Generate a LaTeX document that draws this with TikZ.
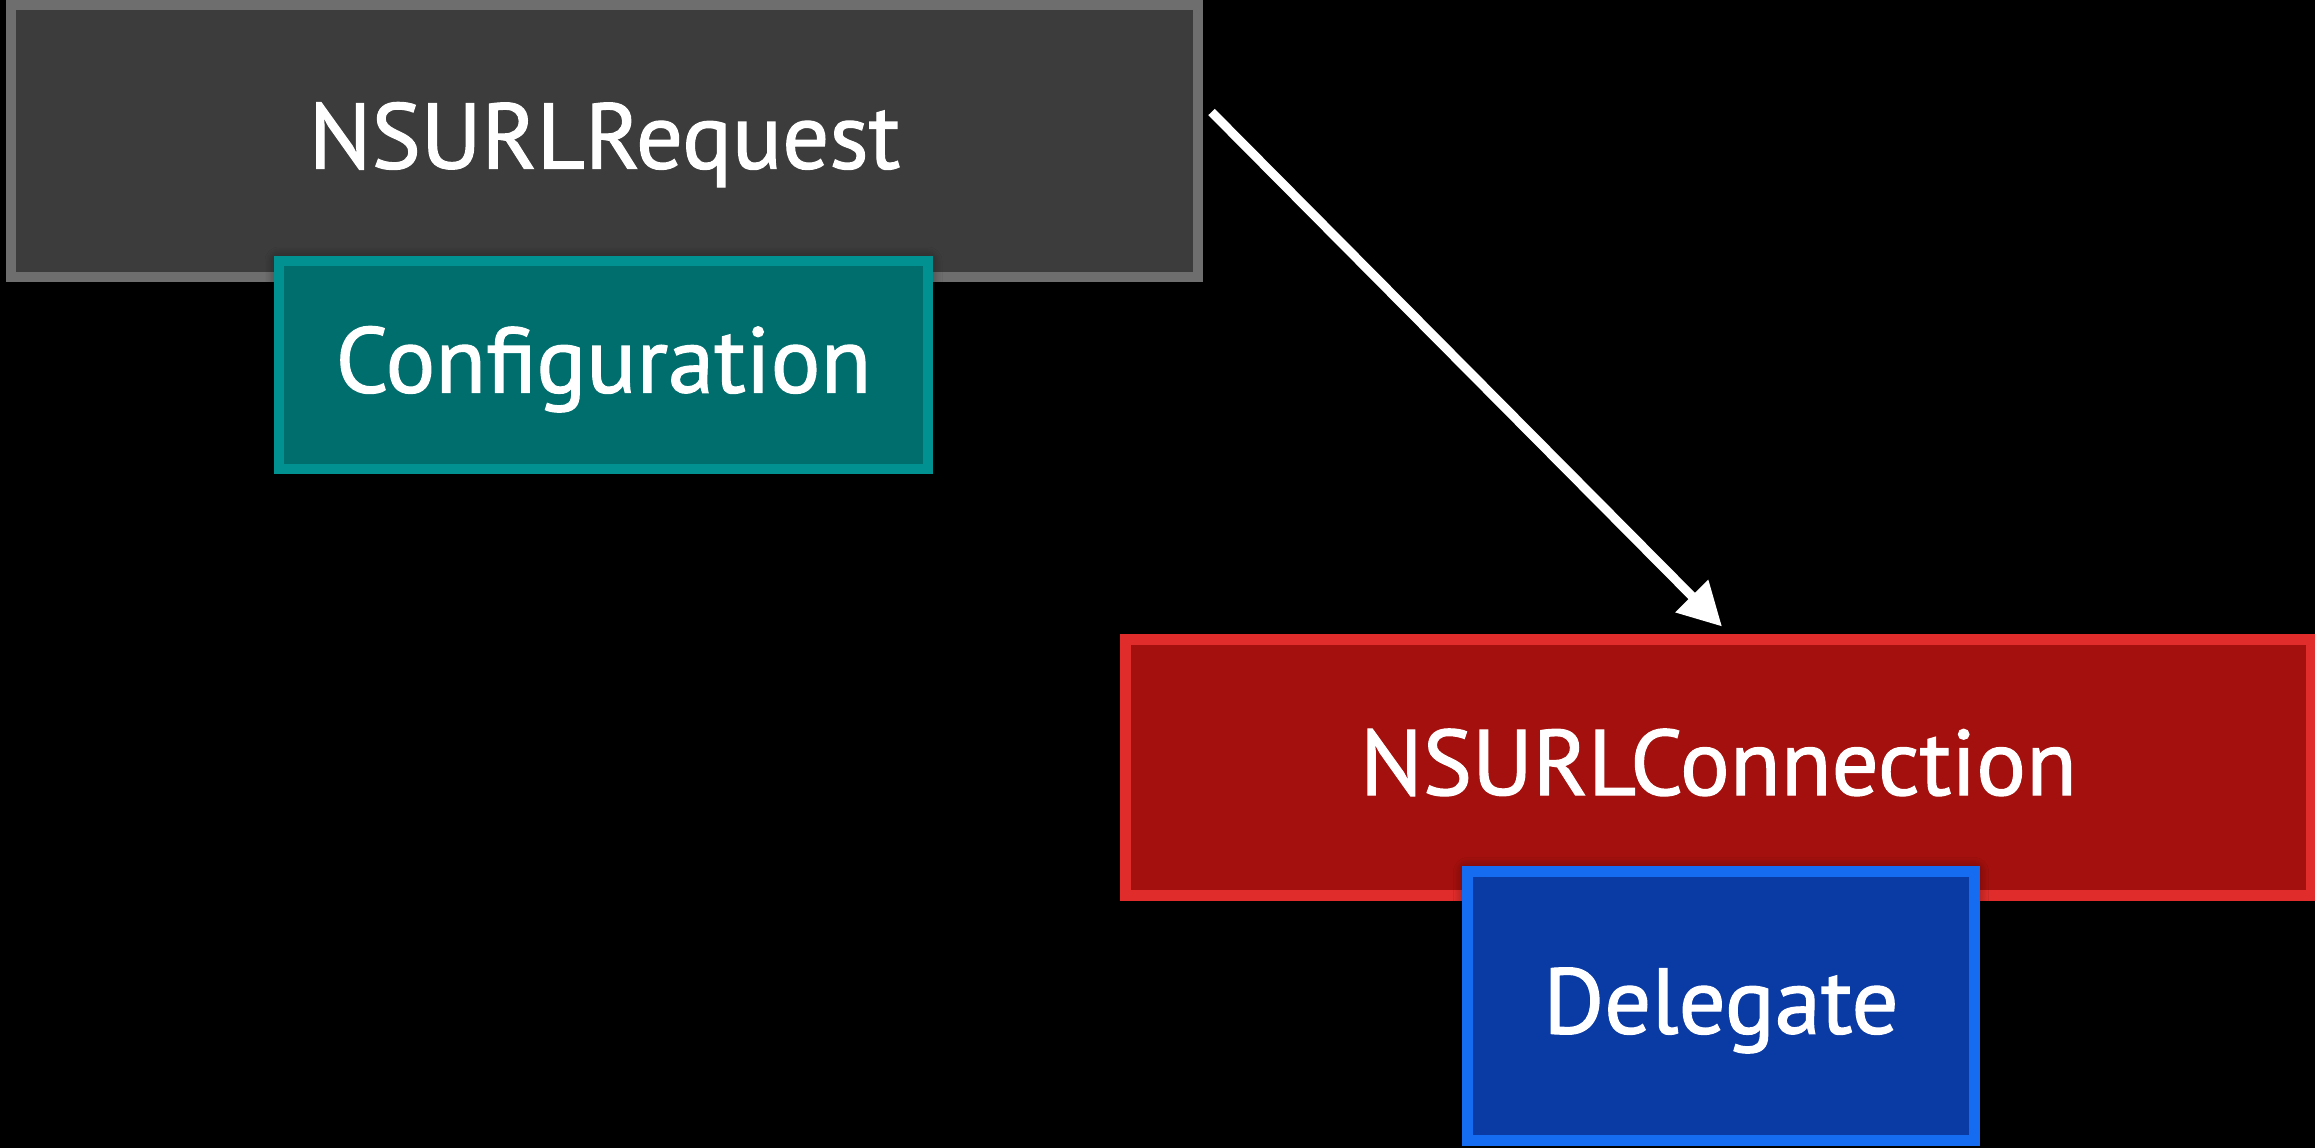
\documentclass[tikz,border=0pt]{standalone}
\usepackage{fontspec}
\setmainfont{PT Sans}
\newfontfamily\boxfont{PT Sans}[FakeBold=1.3]
\usetikzlibrary{arrows.meta,shadows.blur,calc}

\definecolor{reqfill}{HTML}{3C3C3C}
\definecolor{reqline}{HTML}{6E6E6E}
\definecolor{cfgfill}{HTML}{006E6D}
\definecolor{cfgline}{HTML}{009190}
\definecolor{confill}{HTML}{A3100D}
\definecolor{conline}{HTML}{E02C2A}
\definecolor{delfill}{HTML}{0A3AA4}
\definecolor{delline}{HTML}{156CF0}

\tikzset{
  box/.style={rectangle, inner sep=0pt, outer sep=0pt, text=white,
    font=\boxfont\fontsize{93}{100}\selectfont, text height=65pt, text depth=10pt},
  softshadow/.style={blur shadow={shadow xshift=0pt, shadow yshift=0pt,
    shadow blur radius=14pt, shadow blur steps=12, shadow opacity=60}},
  flow/.style={draw=white, line width=9pt,
    -{Triangle[length=43pt,width=44pt]}},
}

\begin{document}
\begin{tikzpicture}[x=1pt,y=-1pt]
  \useasboundingbox (0,0) rectangle (2315,1148);
  \fill[black] (0,0) rectangle (2315,1148);

  % request object and its configuration
  \node[box, fill=reqfill, draw=reqline, line width=10pt,
        minimum width=1187pt, minimum height=272pt] (req) at (604.5,141) {NSURLRequest};
  \node[box, fill=cfgfill, draw=cfgline, line width=10pt, softshadow,
        minimum width=649pt, minimum height=208pt] (cfg) at (603.5,365) {Configuration};

  % connection object and its delegate
  \node[box, fill=confill, draw=conline, line width=11pt,
        minimum width=1186pt, minimum height=256pt] (conn) at (1718.5,767.5) {NSURLConnection};
  \node[box, fill=delfill, draw=delline, line width=11pt, softshadow,
        minimum width=507pt, minimum height=269pt] (dlg) at (1721,1006) {Delegate};

  % request handed to the connection
  \coordinate (from) at ($(req.east)+(13.5,-29)$);
  \coordinate (to) at ($(conn.north)+(3.5,-13)$);
  \draw[flow] (from) -- (to);
\end{tikzpicture}
\end{document}
